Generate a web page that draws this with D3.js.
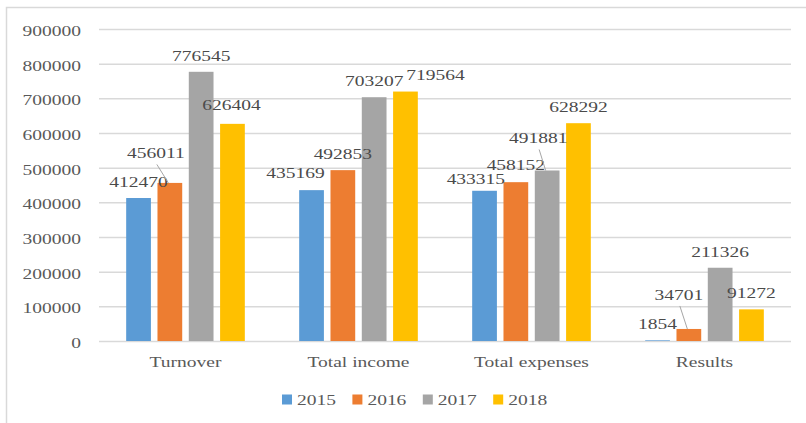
<!DOCTYPE html>
<html>
<head>
<meta charset="utf-8">
<script src="https://cdn.jsdelivr.net/npm/d3@7/dist/d3.min.js"></script>
<style>
  html, body { margin: 0; padding: 0; background: #fff; }
  svg { display: block; }
  svg text { font-family: "Liberation Serif", "Times New Roman", serif !important; }
</style>
</head>
<body>
<svg id="chart" width="806" height="423"></svg>
<script>
// ---- data ----
const categories = ["Turnover", "Total income", "Total expenses", "Results"];
const years = ["2015", "2016", "2017", "2018"];
const values2015 = [412470, 435169, 433315, 1854];
const values2016 = [456011, 492853, 458152, 34701];
const values2017 = [776545, 703207, 491881, 211326];
const values2018 = [626404, 719564, 628292, 91272];
const yTicks = [0, 100000, 200000, 300000, 400000, 500000, 600000, 700000, 800000, 900000];
const colors = ["#5B9BD5", "#ED7D31", "#A5A5A5", "#FFC000"];

// label nudges (layout only): [dx, dy, leader]
const labelNudge = {
  "Turnover|2016": [-14, -13.5, true],
  "Turnover|2018": [-1, -3, false],
  "Total income|2015": [-16, -1, false],
  "Total income|2018": [30, -0.5, false],
  "Total expenses|2015": [-8.7, 4.5, false],
  "Total expenses|2016": [0, -1, false],
  "Total expenses|2017": [-9, -16, true],
  "Results|2016": [-10, -18, true]
};

const seriesValues = [values2015, values2016, values2017, values2018];
const rows = [];
categories.forEach((c, ci) => {
  years.forEach((yr, yi) => rows.push({ cat: c, year: yr, yi, value: seriesValues[yi][ci] }));
});

const SX = 1.3; // horizontal text stretch of the reference
const FONT = "'Liberation Serif', 'Times New Roman', serif";
const svg = d3.select("#chart");

// frame
svg.append("rect").attr("x", 6.5).attr("y", 7.5).attr("width", 900).attr("height", 500)
  .attr("fill", "none").attr("stroke", "#D9D9D9").attr("stroke-width", 1.5);

const pLeft = 99, pRight = 791, pTop = 29, pBottom = 341;
const x0 = d3.scaleBand().domain(categories).range([pLeft, pRight]).padding(0);
const x1 = d3.scaleBand().domain(years).range([0, x0.bandwidth()]).paddingInner(0.21).paddingOuter(0.868);
const y = d3.scaleLinear().domain([0, 900000]).range([pBottom, pTop]);
const color = d3.scaleOrdinal().domain(years).range(colors);

// y axis + gridlines
const yAxis = svg.append("g").attr("transform", `translate(${pLeft},0)`)
  .call(d3.axisLeft(y).tickValues(yTicks).tickFormat(d3.format("d"))
    .tickSizeInner(-(pRight - pLeft)).tickSizeOuter(0).tickPadding(18));
yAxis.attr("font-family", FONT);
yAxis.select(".domain").remove();
yAxis.selectAll(".tick line").attr("stroke", "#D9D9D9").attr("stroke-width", 1.5);
yAxis.selectAll(".tick text")
  .attr("x", null).attr("dy", null)
  .attr("transform", `translate(-18,6.5) scale(${SX},1)`)
  .attr("fill", "#595959").attr("font-size", 15)
  .style("font-family", FONT);

// x axis labels
const xAxis = svg.append("g").attr("transform", `translate(0,${pBottom})`)
  .call(d3.axisBottom(x0).tickSize(0).tickPadding(0));
xAxis.attr("font-family", FONT);
xAxis.select(".domain").remove();
xAxis.selectAll(".tick text")
  .attr("y", null).attr("dy", null)
  .attr("transform", `translate(0,25.5) scale(${SX},1)`)
  .attr("fill", "#595959").attr("font-size", 15)
  .style("font-family", FONT);

// bars
svg.append("g").selectAll("rect").data(rows).join("rect")
  .attr("x", d => x0(d.cat) + x1(d.year))
  .attr("width", x1.bandwidth())
  .attr("y", d => y(d.value))
  .attr("height", d => y(0) - y(d.value))
  .attr("fill", d => color(d.year));

// data labels
const lab = svg.append("g");
rows.forEach(d => {
  const cx = x0(d.cat) + x1(d.year) + x1.bandwidth() / 2;
  const barTop = y(d.value);
  const n = labelNudge[d.cat + "|" + d.year] || [0, 0, false];
  const lx = cx + n[0], ly = barTop - 11 + n[1];
  if (n[2]) {
    lab.append("line").attr("x1", lx + 1).attr("y1", ly + 6)
      .attr("x2", cx - 1.5).attr("y2", barTop)
      .attr("stroke", "#A6A6A6").attr("stroke-width", 1);
  }
  lab.append("text")
    .attr("transform", `translate(${lx},${ly}) scale(${SX},1)`)
    .attr("text-anchor", "middle")
    .attr("font-size", 15).attr("fill", "#4a4a4a")
    .style("font-family", FONT)
    .text(d3.format("d")(d.value));
});

// legend
const legend = svg.append("g");
years.forEach((yr, i) => {
  const gx = 282 + i * 70.4;
  legend.append("rect").attr("x", gx).attr("y", 394.5).attr("width", 10).attr("height", 10)
    .attr("fill", color(yr));
  legend.append("text")
    .attr("transform", `translate(${gx + 15},404.5) scale(${SX},1)`)
    .attr("font-size", 15).attr("fill", "#595959")
    .style("font-family", FONT)
    .text(yr);
});
</script>
</body>
</html>
